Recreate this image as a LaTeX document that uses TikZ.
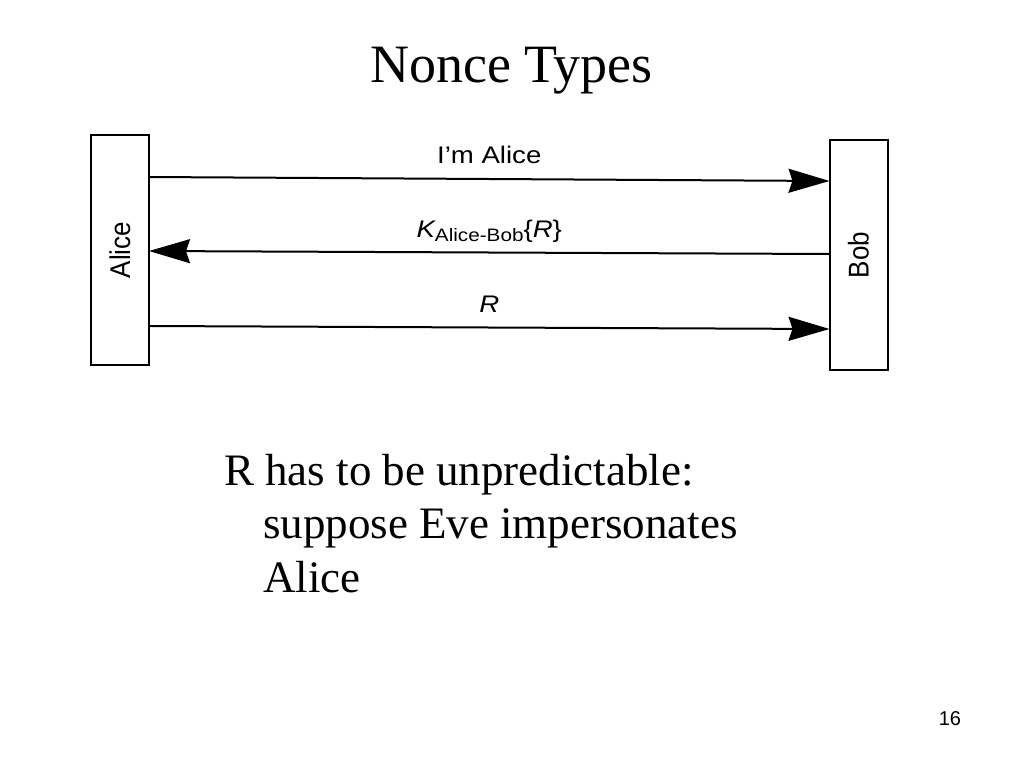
\documentclass[tikz,border=0pt]{standalone}
\usepackage{fontspec}
\setmainfont{Liberation Serif}
\newfontfamily\labelfont{Liberation Sans}
\usetikzlibrary{arrows.meta, positioning}
\newcommand{\stretchlabel}[1]{\scalebox{1.15}[1]{#1}}

\begin{document}
\begin{tikzpicture}[x=1pt, y=-1pt,
			>={Stealth[length=41pt, width=24pt, inset=4pt]},
			line width=2pt,
			party/.style={draw, minimum width=58pt, minimum height=230pt, inner sep=0pt, outer sep=0pt, font=\labelfont\fontsize{26}{30}\selectfont},
			msg/.style={midway, anchor=base, yshift=15.5pt, inner sep=0pt, font=\labelfont\fontsize{24}{28}\selectfont},
			remark/.style={anchor=base west, inner sep=0pt, font=\fontsize{45}{54}\selectfont}]
			\useasboundingbox (0,0) rectangle (1024,768);
			\node (title) [anchor=base, inner sep=0pt, font=\fontsize{54}{60}\selectfont] at (511.5,82) {Nonce Types};
			\node (alice) [party] at (120,250) {\scalebox{1.1}[1]{\rotatebox{90}{Alice}}};
			\node (bob) [party] at (858.5,255) {\scalebox{1.1}[1]{\rotatebox{90}{Bob}}};
			\draw[->] ([yshift=73pt]alice.east) -- ([yshift=74pt]bob.west) node[msg] {\stretchlabel{I’m Alice}};
			\draw[->] ([yshift=1pt]bob.west) -- ([yshift=-1pt]alice.east) node[msg] {\stretchlabel{{\itshape K}\raisebox{-0.2em}{\fontsize{18}{20}\selectfont Alice-Bob}\{{\itshape R}\}}};
			\draw[->] ([yshift=-76pt]alice.east) -- ([yshift=-74pt]bob.west) node[msg] {\stretchlabel{\itshape R}};
			% the remark below the diagram
			\node (line1) [remark] at (223,485) {R has to be unpredictable:};
			\node (line2) [remark] at (262,538.5) {suppose Eve impersonates};
			\node (line3) [remark] at (262,592) {Alice};
			\node (pagenum) [anchor=base east, inner sep=0pt, font=\labelfont\fontsize{20}{24}\selectfont] at (962,725) {16};
		\end{tikzpicture}
\end{document}
